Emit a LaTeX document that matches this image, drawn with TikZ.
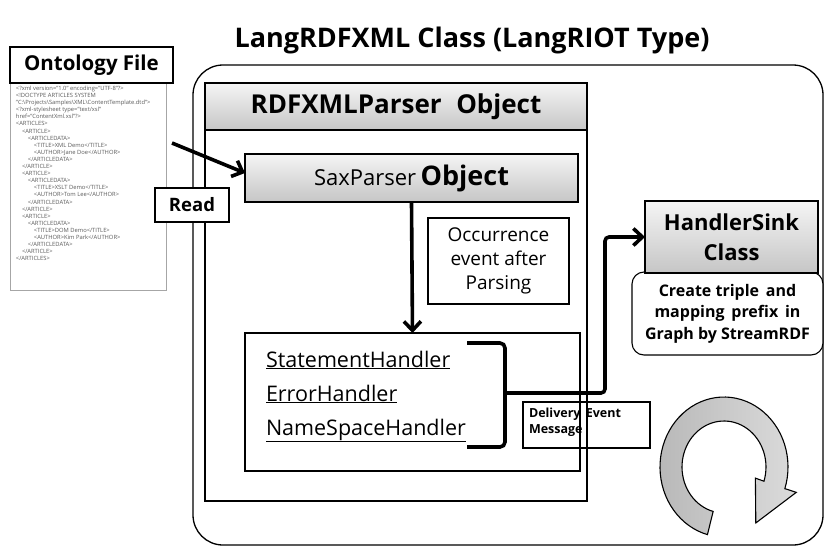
\documentclass[tikz,border=0pt]{standalone}
\usepackage{fontspec}
\setmainfont{Open Sans}
\usetikzlibrary{arrows.meta,calc}
\begin{document}
\begin{tikzpicture}[x=1pt,y=-1pt,
  every node/.style={inner sep=0pt,outer sep=0pt},
  plainbox/.style={draw,line width=1.1pt,fill=white},
  shadebox/.style={draw,line width=1.1pt,top color=gray!8,bottom color=gray!45},
  bigarrow/.style={line width=3.6pt,-{Straight Barb[length=9pt,width=17pt]}},
  thickline/.style={line width=3.6pt}]
\useasboundingbox (0,0) rectangle (825,550);

% title
\node[font=\bfseries\fontsize{27}{32}\selectfont] (title) at (472,40) {LangRDFXML Class (LangRIOT Type)};

% ontology file
\node[draw=gray!70,line width=0.8pt,minimum width=156pt,minimum height=207pt] (ontdoc) at (88,186.5) {};
\node[draw,line width=1.1pt,fill=white,minimum width=163pt,minimum height=36pt,font=\bfseries\fontsize{20.5}{24}\selectfont] (ontlabel) at (91.5,65) {Ontology File};
\node[anchor=north west,align=left,text=gray!70!black,font=\fontsize{5.8}{7.1}\selectfont] (ontxml) at (16,86) {%
<?xml version="1.0" encoding="UTF-8"?>\\
<!DOCTYPE ARTICLES SYSTEM\\
"C:\textbackslash Projects\textbackslash Samples\textbackslash XML\textbackslash ContentTemplate.dtd">\\
<?xml-stylesheet type="text/xsl"\\
href="ContentXml.xsl"?>\\
<ARTICLES>\\
\hspace*{6pt}<ARTICLE>\\
\hspace*{12pt}<ARTICLEDATA>\\
\hspace*{18pt}<TITLE>XML Demo</TITLE>\\
\hspace*{18pt}<AUTHOR>Jane Doe</AUTHOR>\\
\hspace*{12pt}</ARTICLEDATA>\\
\hspace*{6pt}</ARTICLE>\\
\hspace*{6pt}<ARTICLE>\\
\hspace*{12pt}<ARTICLEDATA>\\
\hspace*{18pt}<TITLE>XSLT Demo</TITLE>\\
\hspace*{18pt}<AUTHOR>Tom Lee</AUTHOR>\\
\hspace*{12pt}</ARTICLEDATA>\\
\hspace*{6pt}</ARTICLE>\\
\hspace*{6pt}<ARTICLE>\\
\hspace*{12pt}<ARTICLEDATA>\\
\hspace*{18pt}<TITLE>DOM Demo</TITLE>\\
\hspace*{18pt}<AUTHOR>Kim Park</AUTHOR>\\
\hspace*{12pt}</ARTICLEDATA>\\
\hspace*{6pt}</ARTICLE>\\
</ARTICLES>};

% outer class box
\node[draw,line width=1.3pt,rounded corners=30pt,minimum width=630pt,minimum height=480pt] (outer) at (508,305) {};

% RDFXMLParser object
\node[draw,line width=1.1pt,minimum width=382pt,minimum height=418pt] (rdfbox) at (396,292) {};
\node[shadebox,minimum width=382pt,minimum height=47pt,font=\bfseries\fontsize{26}{30}\selectfont] (rdfhead) at (396,106.5) {RDFXMLParser\hspace{0.3em} Object};

% SaxParser object
\node[shadebox,minimum width=333pt,minimum height=48pt] (sax) at (411.5,178)
  {{\fontsize{22}{26}\selectfont SaxParser}\hspace{0.45em}{\bfseries\fontsize{27}{30}\selectfont Object}};

% occurrence event
\node[plainbox,minimum width=141pt,minimum height=86pt,align=center,font=\fontsize{19}{24}\selectfont] (occ) at (498.5,261) {Occurrence\\event after\\Parsing};

% handlers
\node[plainbox,minimum width=335pt,minimum height=138pt] (handlers) at (412.5,402) {};
\node[anchor=base west,font=\fontsize{21.5}{24}\selectfont] (h1) at (266,367) {\underline{StatementHandler}};
\node[anchor=base west,font=\fontsize{21.5}{24}\selectfont] (h2) at (266,401) {\underline{ErrorHandler}};
\node[anchor=base west,font=\fontsize{21.5}{24}\selectfont] (h3) at (266,435) {\underline{NameSpaceHandler}};

% bracket
\coordinate (brtop) at (467,343);
\coordinate (brbot) at (467,447);
\coordinate (brmid) at (505,393);
\draw[thickline,rounded corners=5pt] (brtop) -- (505,343) -- (505,447) -- (brbot);

% HandlerSink
\node[draw,line width=1.1pt,fill=white,rounded corners=12pt,minimum width=191pt,minimum height=83pt,align=center,font=\bfseries\fontsize{16}{21.5}\selectfont] (create) at (727.5,313.5) {\rule{0pt}{9pt}Create triple\, and\\mapping\, prefix\, in\\Graph by StreamRDF};
\node[shadebox,minimum width=173pt,minimum height=72pt,align=center,font=\bfseries\fontsize{22}{30}\selectfont] (sink) at (731.5,237) {HandlerSink\\Class};

% delivery
\coordinate (turn) at (605,237);
\draw[bigarrow,rounded corners=4pt] (brmid) -| (turn) -- (sink.west);
\node[draw,line width=1.1pt,minimum width=127pt,minimum height=46pt] (delivery) at (586.5,425) {};
\node[anchor=north west,align=left,font=\bfseries\fontsize{12.5}{16}\selectfont] (deltext) at (529,408) {Delivery\, Event\\Message};

% sax -> handlers
\draw[bigarrow] (sax.south) -- (handlers.north);

% read
\coordinate (readfrom) at (172,143);
\draw[bigarrow] (readfrom) -- ([yshift=5pt]sax.west);
\node[plainbox,minimum width=74pt,minimum height=34pt,font=\bfseries\fontsize{18.5}{22}\selectfont] (read) at (192,205) {Read};

% circular arrow (page y grows downward, so y = cy - r sin)
\path[draw,line width=1.1pt,left color=gray!55,right color=gray!28]
  plot[domain=255:-18,samples=60] ({724+64*cos(\x)},{467-70*sin(\x)})
  -- ({724+76*cos(-18)},{467-82*sin(-18)})
  -- ({724+60*cos(-58)},{467-66*sin(-58)})
  -- ({724+33*cos(-18)},{467-36*sin(-18)})
  -- plot[domain=-18:255,samples=60] ({724+42*cos(\x)},{467-46*sin(\x)})
  -- cycle;
\end{tikzpicture}
\end{document}
